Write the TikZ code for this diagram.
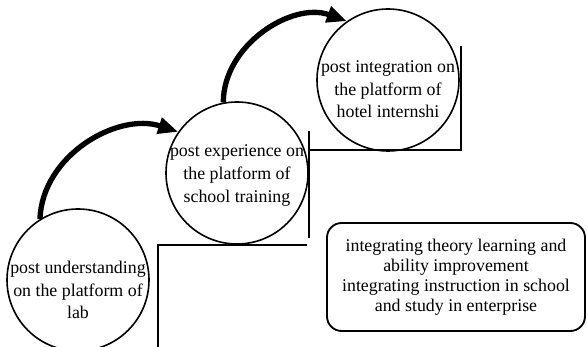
\documentclass[tikz,border=0pt]{standalone}
\usepackage{fontspec}
\setmainfont{Liberation Serif}
\usetikzlibrary{arrows.meta}
\tikzstyle{line} = [draw, line width=1.2pt]

\begin{document}
\begin{tikzpicture}[x=0.75pt, y=0.75pt,
   stage/.style={circle,draw=black,line width=1.2pt,minimum size=106.5pt,inner sep=0pt},
   stagetext/.style={align=center,inner sep=0pt,font=\fontsize{13.4}{17}\selectfont},
   note/.style={draw,rounded corners=11pt,line width=1.4pt,minimum width=193.5pt,
     minimum height=81pt,align=center,font=\fontsize{13.4}{15}\selectfont},
   flow/.style={-{Triangle[length=15pt,width=12pt]},line width=4pt}]
\useasboundingbox (0,0) rectangle (587,347);

% steps
\draw[line] (158,0) -- (158,102) -- (307,102);
\draw[line] (309,109) -- (309,216);
\draw[line] (309,197) -- (461,197) -- (461,301);

\node[stage] (lab) at (78,67) {};
\node[stagetext] (labtext) at ([yshift=-7.5pt]lab.center) {post understanding\\on the platform of\\lab};

\node[stage] (training) at (237,174) {};
\node[stagetext] (trainingtext) at ([yshift=-2pt]training.center) {post experience on\\the platform of\\school training};

\node[stage] (hotel) at (388,267) {};
\node[stagetext] (hoteltext) at ([yshift=-7pt]hotel.center) {post integration on\\the platform of\\hotel internshi};

\node[note] (goal) at (456,70) {integrating theory learning and\\ability improvement\\integrating instruction in school\\and study in enterprise};

\path
	(lab.122) edge[flow, out=88, in=162] (training.145)
	(training.101) edge[flow, out=90, in=160] (hotel.125)
;

\end{tikzpicture}
\end{document}
